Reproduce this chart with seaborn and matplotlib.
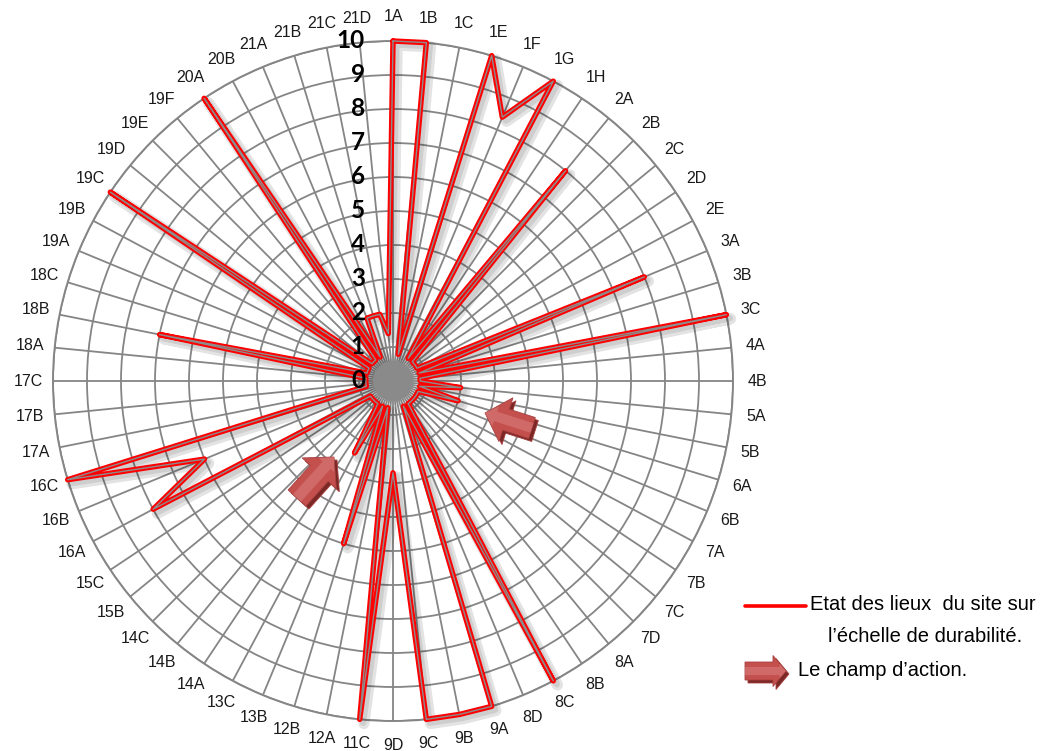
import numpy as np
import pandas as pd
import matplotlib
matplotlib.use("Agg")
import matplotlib.pyplot as plt
import seaborn as sns
from matplotlib import patheffects as pe
from matplotlib.patches import Polygon, Circle
from matplotlib.lines import Line2D
from matplotlib.transforms import offset_copy

# ---------------- data ----------------
categories = ["1A", "1B", "1C", "1E", "1F", "1G", "1H", "2A", "2B", "2C", "2D", "2E",
              "3A", "3B", "3C", "4A", "4B", "5A", "5B", "6A", "6B", "7A", "7B", "7C",
              "7D", "8A", "8B", "8C", "8D", "9A", "9B", "9C", "9D", "11C", "12A", "12B",
              "13B", "13C", "14A", "14B", "14C", "15B", "15C", "16A", "16B", "16C", "17A",
              "17B", "17C", "18A", "18B", "18C", "19A", "19B", "19C", "19D", "19E", "19F",
              "20A", "20B", "21A", "21B", "21C", "21D"]
values = [10, 10, 0.8, 10, 8.4, 10, 0.8, 8, 0.8, 0.8, 0.8, 0.8,
          8, 0.8, 10, 0.8, 0.8, 2, 0.8, 2, 0.8, 0.8, 0.8, 0.8,
          0.8, 0.8, 0.8, 10, 0.8, 10, 10, 10, 2.7, 10, 0.8, 5,
          0.8, 2.4, 0.8, 0.8, 0.8, 0.8, 0.8, 8, 6, 10, 0.8,
          0.8, 0.8, 0.8, 7, 0.8, 0.8, 0.8, 10, 0.8, 0.8, 0.8,
          10, 0.8, 2, 2, 2, 1.4]
ring_labels = ["0", "1", "2", "3", "4", "5", "6", "7", "8", "9", "10"]
legend_line_text_1 = "Etat des lieux  du site sur"
legend_line_text_2 = "l\u2019\u00e9chelle de durabilit\u00e9."
legend_arrow_text = "Le champ d\u2019action."

# ---------------- style ----------------
sns.set_theme(style="white")
plt.rcParams["font.family"] = ["Liberation Sans", "DejaVu Sans"]

W, H = 1059, 751
fig = plt.figure(figsize=(W / 100, H / 100), dpi=100)
fig.patch.set_facecolor("white")

cx, cy, R = 393, 381, 340  # pixel centre (from top) and radius
ax = fig.add_axes([(cx - R) / W, (H - cy - R) / H, 2 * R / W, 2 * R / H],
                  projection="polar")
ax.set_theta_zero_location("N")
ax.set_theta_direction(-1)

n = len(categories)
theta = np.arange(n) * 2 * np.pi / n

df = pd.DataFrame({"theta": np.append(theta, 2 * np.pi),
                   "value": values + [values[0]]})

effects = [pe.SimpleLineShadow(offset=(3, -3), shadow_color="k", alpha=0.12, linewidth=8),
           pe.SimpleLineShadow(offset=(2.5, -2.5), shadow_color="k", alpha=0.1, linewidth=4.5),
           pe.Stroke(linewidth=3.9, foreground="#ff0000"),
           pe.Normal()]
sns.lineplot(data=df, x="theta", y="value", ax=ax, sort=False, estimator=None,
             color="#8c8c8c", linewidth=1.0, legend=False,
             path_effects=effects, zorder=3, clip_on=False)

ax.set_xlabel("")
ax.set_ylabel("")
ax.set_ylim(0, 10)
ax.set_xticks(theta)
ax.set_xticklabels([])
ax.set_yticks(range(1, 11))
ax.set_yticklabels([])
ax.grid(True, color="#858585", linewidth=1.3)
ax.spines["polar"].set_color("#858585")
ax.spines["polar"].set_linewidth(1.4)
ax.set_facecolor("white")
ax.set_axisbelow(True)

# centre disc (dense spokes)
ax.add_patch(Circle((0.5, 0.5), 20 / (2 * R), transform=ax.transAxes,
                    facecolor="#8a8a8a", edgecolor="none", zorder=4))

# category labels
for t, c in zip(theta, categories):
    ax.text(t, 10.72, c, ha="center", va="center", fontsize=11.5, color="#1a1a1a")

# radial scale labels along the vertical axis
off = offset_copy(ax.transData, fig=fig, x=-28, y=0, units="dots")
for i, lab in enumerate(ring_labels):
    ax.text(0, i, lab, transform=off, ha="right", va="center",
            fontsize=17.5, fontweight="bold", family=["Lato", "DejaVu Sans"],
            color="black", zorder=6)


# ---------------- decorative block arrows ----------------
def block_arrow(tail, tip, shaft_w, head_w, head_len):
    tail = np.array(tail, float)
    tip = np.array(tip, float)
    d = tip - tail
    L = np.hypot(*d)
    u = d / L
    p = np.array([-u[1], u[0]])
    b = tip - u * head_len
    pts = [tail + p * shaft_w / 2, b + p * shaft_w / 2, b + p * head_w / 2, tip,
           b - p * head_w / 2, b - p * shaft_w / 2, tail - p * shaft_w / 2]
    return np.array(pts)


def draw_arrow(tail, tip, shaft_w, head_w, head_len):
    pts = block_arrow(tail, tip, shaft_w, head_w, head_len)
    sh = pts + np.array([3, 3])
    for arr, col, z in [(sh, "#7a2826", 7), (pts, "#c4504e", 8)]:
        fpts = np.column_stack([arr[:, 0] / W, 1 - arr[:, 1] / H])
        fig.add_artist(Polygon(fpts, closed=True, transform=fig.transFigure,
                               facecolor=col, edgecolor="#a8403e", linewidth=0.6,
                               zorder=z))
    hl = block_arrow(tail, tip, shaft_w * 0.45, head_w * 0.45, head_len * 0.5)
    fpts = np.column_stack([hl[:, 0] / W, 1 - hl[:, 1] / H])
    fig.add_artist(Polygon(fpts, closed=True, transform=fig.transFigure,
                           facecolor="#d97d7b", edgecolor="none", alpha=0.6, zorder=9))


draw_arrow((532, 428), (485, 413), 22, 46, 22)
draw_arrow((297, 498), (334, 457), 24, 46, 22)

# ---------------- legend ----------------
fig.add_artist(Line2D([745 / W, 806 / W], [1 - 606 / H, 1 - 606 / H],
                      color="#ff0000", linewidth=2.6, transform=fig.transFigure))
fig.text(810 / W, 1 - 605 / H, legend_line_text_1, ha="left", va="center",
         fontsize=14.5, color="black")
fig.text(828 / W, 1 - 637 / H, legend_line_text_2, ha="left", va="center",
         fontsize=14.5, color="black")
draw_arrow((745, 671), (786, 671), 18, 31, 13)
fig.text(798 / W, 1 - 670 / H, legend_arrow_text, ha="left", va="center",
         fontsize=14.5, color="black")

fig.savefig("out.png", dpi=100, facecolor="white")
